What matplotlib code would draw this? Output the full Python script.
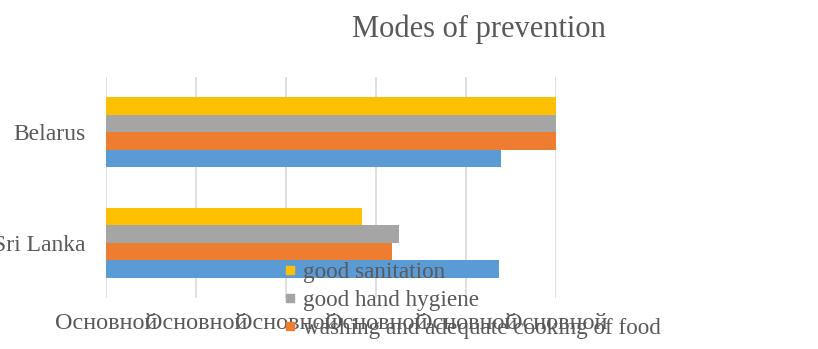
import numpy as np
import matplotlib.pyplot as plt
from matplotlib.lines import Line2D
from matplotlib.transforms import Bbox, TransformedBbox

# countries on the category axis (bottom to top)
countries = ["Sri Lanka", "Belarus"]

# series, listed top bar first as in the legend
series_names = ["good sanitation", "good hand hygiene",
                "washing and adequate cooking of food", "vaccination"]
series_colors = ["#FFC000", "#A5A5A5", "#ED7D31", "#5B9BD5"]
sanitation = [2.84, 5.0]
hand_hygiene = [3.26, 5.0]
washing_cooking = [3.18, 5.0]
vaccination = [4.37, 4.39]

tick_values = [0, 1, 2, 3, 4, 5]
tick_labels = ["Основной"] * 6

text_gray = "#595959"
serif = ["Liberation Serif", "DejaVu Serif"]

fig = plt.figure(figsize=(8.18, 3.49), dpi=100)
W, H = 818, 349
ax = fig.add_axes([106 / W, 1 - 298 / H, 450 / W, 221 / H])

values = [sanitation, hand_hygiene, washing_cooking, vaccination]
h = 0.159
y = np.arange(len(countries))
for i, (vals, col) in enumerate(zip(values, series_colors)):
    offset = (1.5 - i) * h
    ax.barh(y + offset, vals, height=h, color=col, zorder=2)

ax.set_xlim(0, 5)
ax.set_ylim(-0.5, 1.5)
ax.set_xticks(tick_values)
ax.set_xticklabels(tick_labels, family=serif, fontsize=17.5, color=text_gray)
ax.set_yticks(y)
ax.set_yticklabels(countries, family=serif, fontsize=17, color=text_gray)
ax.tick_params(axis="x", length=0, pad=11)
ax.tick_params(axis="y", length=0, pad=14.5)
ax.xaxis.grid(True, color="#D9D9D9", linewidth=1.2, zorder=0)
ax.set_axisbelow(True)
for s in ax.spines.values():
    s.set_visible(False)

fig.text(479 / W, 1 - 37 / H, "Modes of prevention", ha="center", va="baseline",
         family=serif, fontsize=22, color=text_gray)

# legend sits over the bottom of the chart, last entry is cut by the chart area
handles = [Line2D([], [], marker="s", linestyle="none", color=c, markersize=6)
           for c in series_colors]
leg = fig.legend(handles, series_names, loc="upper left",
                 bbox_to_anchor=(271 / W, 1 - 250 / H),
                 frameon=False, handlelength=0.6, handletextpad=0.3,
                 labelspacing=0.3, borderpad=0,
                 prop={"family": serif, "size": 16.7})
clip = TransformedBbox(Bbox([[0, 9 / H], [1, 1]]), fig.transFigure)
for t in leg.get_texts():
    t.set_color(text_gray)
    t.set_clip_box(clip)
    t.set_clip_on(True)
for hd in leg.legend_handles:
    hd.set_clip_box(clip)
    hd.set_clip_on(True)

fig.savefig("out.png", dpi=100)
